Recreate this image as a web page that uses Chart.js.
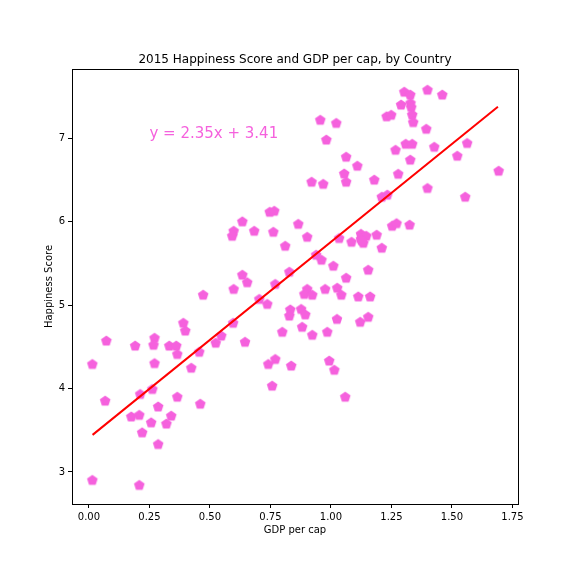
<!DOCTYPE html>
<html>
<head>
<meta charset="utf-8">
<title>2015 Happiness Score and GDP per cap</title>
<script src="https://cdn.jsdelivr.net/npm/chart.js@4/dist/chart.umd.min.js"></script>
<style>
  html, body { margin: 0; padding: 0; background: #fff; }
  #wrap { width: 576px; height: 576px; }
</style>
</head>
<body>
<div id="wrap"><canvas id="happyCanvas" width="576" height="576"></canvas></div>
<script>
var gdpPerCap = [
  0.747, 0.766, 0.634, 0.598, 0.592, 0.683, 0.762, 0.811, 0.865, 0.634, 0.654, 0.598, 0.472, 0.828, 0.77, 0.704,
  1.303, 1.328, 1.399, 1.46, 1.29, 1.329, 1.332, 1.23, 1.249, 1.336, 1.34, 0.956, 1.022, 0.981, 1.394, 1.309,
  1.336, 1.427, 1.563, 1.522, 1.267, 1.328, 1.063, 1.109, 1.055, 1.063, 1.179, 1.278, 0.92, 0.968, 1.399, 1.693,
  1.555, 1.21, 1.233, 1.253, 1.271, 1.325, 0.902, 1.034, 1.085, 1.124, 1.146, 1.189, 1.124, 1.134, 1.128, 1.21,
  0.939, 0.961, 1.01, 1.154, 1.063, 0.902, 0.976, 1.026, 0.89, 0.923, 1.043, 1.113, 1.162, 0.877, 0.894, 1.025,
  1.121, 1.154, 0.881, 0.923, 0.985, 0.993, 1.014, 1.059, 0.596, 0.737, 0.832, 0.828, 0.799, 0.645, 0.547, 0.524,
  0.456, 0.39, 0.398, 0.271, 0.267, 0.191, 0.072, 0.014, 0.271, 0.332, 0.361, 0.365, 0.423, 0.741, 0.77, 0.836,
  0.757, 0.212, 0.262, 0.067, 0.365, 0.46, 0.286, 0.175, 0.208, 0.257, 0.34, 0.32, 0.22, 0.286, 0.014, 0.208
];
var happinessScore = [
  6.115, 6.127, 6.0, 5.887, 5.827, 5.887, 5.875, 5.707, 5.97, 5.36, 5.27, 5.19, 5.12, 5.396, 5.25, 5.07,
  7.554, 7.52, 7.578, 7.52, 7.40, 7.42, 7.37, 7.26, 7.278, 7.28, 7.19, 7.218, 7.18, 6.98, 7.11, 6.93,
  6.93, 6.894, 6.94, 6.787, 6.858, 6.74, 6.775, 6.667, 6.574, 6.475, 6.5, 6.57, 6.475, 6.45, 6.40, 6.607,
  6.295, 6.295, 6.32, 5.947, 5.978, 5.96, 5.815, 5.80, 5.755, 5.85, 5.827, 5.84, 5.79, 5.743, 5.77, 5.684,
  5.6, 5.54, 5.468, 5.42, 5.324, 5.19, 5.19, 5.204, 5.13, 5.12, 5.12, 5.10, 5.10, 4.95, 4.884, 4.83,
  4.796, 4.856, 4.736, 4.64, 4.676, 4.33, 4.22, 3.897, 4.784, 5.01, 4.944, 4.87, 4.676, 4.556, 4.63, 4.545,
  4.436, 4.784, 4.69, 4.604, 4.52, 4.51, 4.57, 4.29, 4.30, 4.51, 4.51, 4.41, 4.245, 4.29, 4.35, 4.27,
  4.03, 3.93, 3.99, 3.85, 3.897, 3.813, 3.78, 3.66, 3.68, 3.59, 3.67, 3.575, 3.47, 3.33, 2.90, 2.84
];
// regression line ends
var lineX = [0.015, 1.69];
var lineY = [3.445, 7.38];

var xTicks = [0, 0.25, 0.5, 0.75, 1, 1.25, 1.5, 1.75];
var yTicks = [3, 4, 5, 6, 7];

var pink = 'rgb(245,97,221)';
var fontName = '"DejaVu Sans"';

// no pentagon in chart.js point styles so make one
function pentagonSprite(r) {
  var size = Math.ceil(r * 2) + 2;
  var c = document.createElement('canvas');
  c.width = size;
  c.height = size;
  var g = c.getContext('2d');
  g.fillStyle = pink;
  g.beginPath();
  for (var i = 0; i < 5; i++) {
    var a = -Math.PI / 2 + i * 2 * Math.PI / 5;
    var px = size / 2 + r * Math.cos(a);
    var py = size / 2 + r * Math.sin(a);
    if (i === 0) g.moveTo(px, py); else g.lineTo(px, py);
  }
  g.closePath();
  g.fill();
  return c;
}

var points = gdpPerCap.map(function(v, i) {
  return {x: v, y: happinessScore[i]};
});
var linePoints = lineX.map(function(v, i) {
  return {x: v, y: lineY[i]};
});

// top and right spines + the equation text
var extras = {
  id: 'extras',
  afterDatasetsDraw: function(chart) {
    var ctx = chart.ctx;
    var area = chart.chartArea;
    ctx.save();
    ctx.strokeStyle = '#000';
    ctx.lineWidth = 1;
    ctx.beginPath();
    ctx.moveTo(area.left, area.top + 0.5);
    ctx.lineTo(area.right + 0.5, area.top + 0.5);
    ctx.lineTo(area.right + 0.5, area.bottom);
    ctx.stroke();
    ctx.fillStyle = pink;
    ctx.font = '15px ' + fontName;
    ctx.textBaseline = 'alphabetic';
    ctx.fillText('y = 2.35x + 3.41', chart.scales.x.getPixelForValue(0.25), chart.scales.y.getPixelForValue(7));
    ctx.restore();
  }
};

var ctx = document.getElementById('happyCanvas').getContext('2d');
var happyChart = new Chart(ctx, {
  type: 'scatter',
  data: {
    datasets: [
      {
        label: 'Fit',
        data: linePoints,
        showLine: true,
        borderColor: 'red',
        borderWidth: 2,
        pointRadius: 0,
        fill: false
      },
      {
        label: 'Countries',
        data: points,
        pointStyle: pentagonSprite(5.6),
        backgroundColor: pink,
        borderColor: pink
      }
    ]
  },
  options: {
    responsive: false,
    animation: false,
    layout: {padding: {left: 0, top: 0, right: 58, bottom: 0}},
    plugins: {
      legend: {display: false},
      tooltip: {enabled: false},
      title: {
        display: true,
        text: '2015 Happiness Score and GDP per cap, by Country',
        color: '#000',
        fullSize: false,
        font: {family: fontName, size: 12, weight: 'normal'},
        padding: {top: 53, bottom: 1.6}
      }
    },
    scales: {
      x: {
        type: 'linear',
        min: -0.07,
        max: 1.773,
        grid: {drawOnChartArea: false, drawTicks: true, tickLength: 4, color: '#000'},
        border: {color: '#000', width: 1},
        ticks: {
          color: '#000',
          padding: 3,
          maxRotation: 0,
          font: {family: fontName, size: 10},
          callback: function(v) { return v.toFixed(2); }
        },
        title: {
          display: true,
          text: 'GDP per cap',
          color: '#000',
          font: {family: fontName, size: 10},
          padding: {top: 0, bottom: 40}
        },
        afterBuildTicks: function(axis) {
          axis.ticks = xTicks.map(function(v) { return {value: v}; });
        },
        afterFit: function(axis) { axis.height = 72; }
      },
      y: {
        type: 'linear',
        min: 2.616,
        max: 7.832,
        grid: {drawOnChartArea: false, drawTicks: true, tickLength: 4, color: '#000'},
        border: {color: '#000', width: 1},
        ticks: {
          color: '#000',
          padding: 3,
          font: {family: fontName, size: 10},
          callback: function(v) { return String(v); }
        },
        title: {
          display: true,
          text: 'Happiness Score',
          color: '#000',
          font: {family: fontName, size: 10},
          padding: {top: 43, bottom: 0}
        },
        afterBuildTicks: function(axis) {
          axis.ticks = yTicks.map(function(v) { return {value: v}; });
        },
        afterFit: function(axis) { axis.width = 72; }
      }
    }
  },
  plugins: [extras]
});
</script>
</body>
</html>
